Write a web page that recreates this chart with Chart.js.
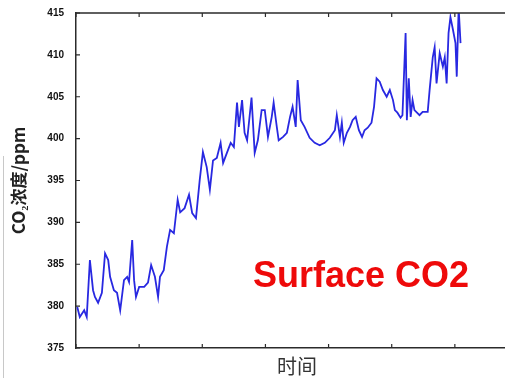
<!DOCTYPE html>
<html>
<head>
<meta charset="utf-8">
<script src="https://cdn.jsdelivr.net/npm/chart.js@4.4.1/dist/chart.umd.min.js"></script>
<style>
html,body{margin:0;padding:0;background:#fff;overflow:hidden;width:505px;height:378px;}
#wrap{position:absolute;left:0;top:0;width:540px;height:378px;}
#note{position:absolute;left:253px;top:254px;font:bold 36px "Liberation Sans",Arial,sans-serif;color:#ee0a0a;white-space:nowrap;line-height:42px;}
#edge{position:absolute;left:3px;top:156px;width:1px;height:222px;background:#c8c8c8;}
</style>
</head>
<body>
<div id="wrap"><canvas id="c" width="540" height="378"></canvas></div>
<div id="edge"></div>
<div id="note">Surface CO2</div>
<script>
// time position (in axis tick units) and CO2 concentration (ppm)
const times = [0.02,0.06,0.13,0.17,0.22,0.27,0.30,0.35,0.41,0.46,0.51,0.54,0.60,0.65,0.70,0.76,0.81,0.84,0.89,0.92,0.95,
  1.00,1.08,1.14,1.19,1.25,1.30,1.33,1.39,1.44,1.49,1.55,1.61,1.65,1.72,1.79,1.84,1.90,1.96,
  2.01,2.07,2.12,2.17,2.23,2.29,2.33,2.39,2.45,2.50,2.55,2.58,2.63,2.67,2.71,2.78,2.83,2.88,2.94,2.99,
  3.04,3.10,3.13,3.18,3.21,3.28,3.34,3.39,3.43,3.48,3.51,3.56,3.62,3.70,3.78,3.86,3.94,
  4.02,4.10,4.13,4.18,4.21,4.24,4.29,4.34,4.38,4.43,4.48,4.53,4.57,4.62,4.68,4.72,4.76,4.81,4.86,4.92,4.97,
  5.02,5.05,5.09,5.14,5.17,5.22,5.24,5.27,5.30,5.33,5.36,5.40,5.44,5.49,5.57,5.60,5.65,5.68,5.71,5.76,5.81,5.84,5.87,5.90,5.93,5.97,
  6.01,6.03,6.06,6.09];
const co2 = [379.9,378.7,379.5,378.7,385.5,381.9,381.1,380.4,381.6,386.3,385.5,383.5,381.9,381.6,379.5,383.1,383.5,382.9,387.9,383.1,381.1,
  382.3,382.3,382.8,384.9,383.5,381.1,383.5,384.3,387.1,389.1,388.7,392.7,391.2,391.7,393.3,391.1,390.5,395.1,
  398.4,396.6,393.9,397.4,397.7,399.5,397.1,398.3,399.5,399.0,404.3,401.4,404.6,400.7,399.8,404.9,398.3,399.8,403.4,403.4,
  400.2,402.6,404.3,401.4,399.8,400.2,400.7,402.6,403.8,401.4,407.0,402.2,401.4,400.1,399.5,399.2,399.5,
  400.1,401.0,402.8,400.2,401.9,399.5,400.7,401.4,402.2,402.6,401.0,400.2,401.0,401.3,401.9,403.8,407.2,406.8,405.8,405.0,405.8,
  404.6,403.4,403.1,402.5,402.8,412.6,402.2,407.2,402.6,404.6,403.4,403.1,402.8,403.2,403.2,405.8,409.7,410.9,406.6,410.2,408.6,409.7,406.6,412.6,414.5,413.0,
  411.4,407.4,415.6,411.4];
const yTicks = [375,380,385,390,395,400,405,410,415];
const xTicks = [0,1,2,3,4,5,6,7];

const points = times.map((t,i)=>({x:t,y:co2[i]}));

const frame = {
  id:'frame',
  afterDraw(chart){
    const {ctx, chartArea:a, scales:{x,y}} = chart;
    ctx.save();
    ctx.strokeStyle = '#2b2b2b';
    ctx.lineWidth = 1.5;
    ctx.beginPath();
    ctx.moveTo(a.left, a.top); ctx.lineTo(a.right, a.top); ctx.lineTo(a.right, a.bottom);
    ctx.stroke();
    ctx.lineWidth = 1.2;
    ctx.beginPath();
    xTicks.forEach(v=>{
      const px = x.getPixelForValue(v);
      ctx.moveTo(px, a.bottom); ctx.lineTo(px, a.bottom-4);
      ctx.moveTo(px, a.top); ctx.lineTo(px, a.top+4);
    });
    yTicks.forEach(v=>{
      const py = y.getPixelForValue(v);
      ctx.moveTo(a.left, py); ctx.lineTo(a.left+4, py);
      ctx.moveTo(a.right, py); ctx.lineTo(a.right-4, py);
    });
    ctx.stroke();
    ctx.restore();
  }
};

new Chart(document.getElementById('c'), {
  type:'line',
  data:{datasets:[{data:points, borderColor:'rgb(40,40,225)', borderWidth:1.8, pointRadius:0, tension:0, fill:false}]},
  options:{
    responsive:false, animation:false,
    layout:{padding:{left:4,right:22,top:13,bottom:0}},
    plugins:{legend:{display:false}, tooltip:{enabled:false}},
    scales:{
      x:{type:'linear', min:0, max:7,
        afterFit(s){ s.height = 30; },
        ticks:{display:false, stepSize:1},
        grid:{display:false},
        border:{display:true, color:'#2b2b2b', width:1.5},
        title:{display:true, text:'时间', color:'#333', font:{family:'"Noto Sans CJK SC"', size:20}, padding:{top:2,bottom:0}}
      },
      y:{min:375, max:415,
        afterFit(s){ s.width = 72; },
        afterBuildTicks(s){ s.ticks = yTicks.map(v=>({value:v})); },
        ticks:{color:'#111', font:{family:'"Liberation Sans", Arial', size:10, weight:'bold'}, padding:4},
        grid:{display:false},
        border:{display:true, color:'#2b2b2b', width:1.5},
        title:{display:true, text:'CO₂浓度/ppm', color:'#222', font:{family:'"Noto Sans CJK SC"', size:17, weight:'bold'}, padding:{top:4,bottom:16}}
      }
    }
  },
  plugins:[frame]
});
</script>
</body>
</html>
